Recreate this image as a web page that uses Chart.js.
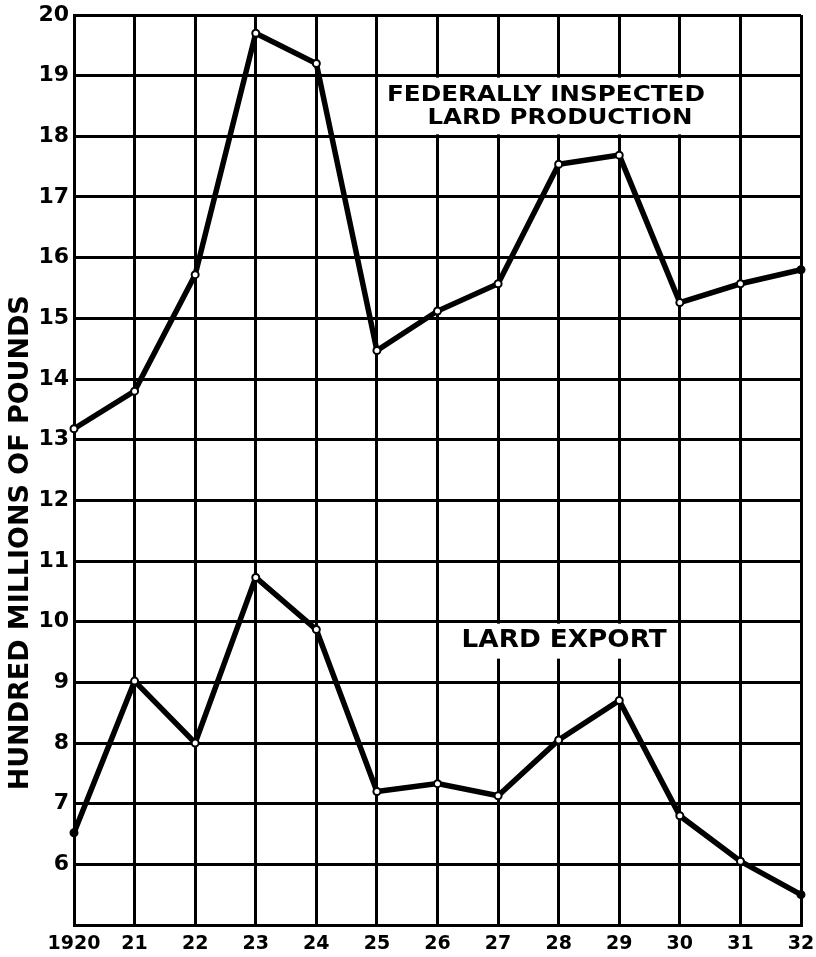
<!DOCTYPE html>
<html><head><meta charset="utf-8">
<script src="https://cdn.jsdelivr.net/npm/chart.js@4/dist/chart.umd.min.js"></script>
<style>html,body{margin:0;padding:0;background:#fff}canvas{display:block}</style>
</head><body>
<canvas id="c" width="816" height="957" style="width:816px;height:957px"></canvas>
<script>
const years = ['1920','21','22','23','24','25','26','27','28','29','30','31','32'];
const productionValues = [13.18, 13.8, 15.72, 19.7, 19.2, 14.47, 15.12, 15.57, 17.54, 17.69, 15.26, 15.57, 15.8];
const exportValues = [6.52, 9.02, 8.0, 10.73, 9.87, 7.2, 7.33, 7.13, 8.05, 8.7, 6.8, 6.05, 5.5];
const yMin = 5, yMax = 20, yStep = 1;
const yAxisTitle = 'HUNDRED MILLIONS OF POUNDS';
const productionLabel = ['FEDERALLY INSPECTED', 'LARD PRODUCTION'];
const exportLabel = 'LARD EXPORT';

const FONT = "'DejaVu Sans', sans-serif";

function fitText(ctx, text, cx, cy, width, size) {
  ctx.save();
  ctx.font = 'bold ' + size + 'px ' + FONT;
  const w = ctx.measureText(text).width;
  ctx.translate(cx, cy);
  ctx.scale(width / w, 1);
  ctx.textAlign = 'center';
  ctx.textBaseline = 'middle';
  ctx.fillStyle = '#000';
  ctx.fillText(text, 0, 0);
  ctx.restore();
}

const annotations = {
  id: 'annotations',
  beforeDatasetsDraw(chart) {
    const ctx = chart.ctx, x = chart.scales.x, y = chart.scales.y;
    ctx.save();
    ctx.fillStyle = '#fff';
    let x0 = x.getPixelForValue(5.1), x1 = x.getPixelForValue(10.9);
    let y0 = y.getPixelForValue(19) + 2, y1 = y.getPixelForValue(18) - 2;
    ctx.fillRect(x0, y0, x1 - x0, y1 - y0);
    x0 = x.getPixelForValue(6.2); x1 = x.getPixelForValue(9.83);
    y0 = y.getPixelForValue(10) + 2; y1 = y.getPixelForValue(9.39);
    ctx.fillRect(x0, y0, x1 - x0, y1 - y0);
    ctx.restore();
    fitText(ctx, productionLabel[0], x.getPixelForValue(7.79), y.getPixelForValue(18.67), 318, 21);
    fitText(ctx, productionLabel[1], x.getPixelForValue(8.02), y.getPixelForValue(18.29), 265, 21);
    fitText(ctx, exportLabel, x.getPixelForValue(8.09), y.getPixelForValue(9.69), 205, 25);
  },
  afterDraw(chart) {
    const ctx = chart.ctx, y = chart.scales.y;
    ctx.save();
    ctx.translate(21, y.getPixelForValue(11.3));
    ctx.rotate(-Math.PI / 2);
    ctx.font = 'bold 26px ' + FONT;
    const w = ctx.measureText(yAxisTitle).width;
    ctx.scale(495 / w, 1);
    ctx.textAlign = 'center';
    ctx.textBaseline = 'middle';
    ctx.fillStyle = '#000';
    ctx.fillText(yAxisTitle, 0, 0);
    ctx.restore();
  }
};

new Chart(document.getElementById('c'), {
  type: 'line',
  data: {
    labels: years,
    datasets: [
      {
        label: productionLabel.join(' '),
        data: productionValues,
        borderColor: '#000', borderWidth: 5.5,
        pointRadius: 3.5, pointBorderWidth: 2, pointBorderColor: '#000',
        pointBackgroundColor: c => c.dataIndex === productionValues.length - 1 ? '#000' : '#fff',
        tension: 0
      },
      {
        label: exportLabel,
        data: exportValues,
        borderColor: '#000', borderWidth: 5.5,
        pointRadius: 3.5, pointBorderWidth: 2, pointBorderColor: '#000',
        pointBackgroundColor: c => (c.dataIndex === 0 || c.dataIndex === exportValues.length - 1) ? '#000' : '#fff',
        tension: 0
      }
    ]
  },
  options: {
    responsive: false,
    animation: false,
    devicePixelRatio: 1,
    layout: { padding: { top: 15, right: 15, left: 0, bottom: 0 } },
    plugins: { legend: { display: false }, tooltip: { enabled: false } },
    scales: {
      x: {
        type: 'category',
        offset: false,
        grid: { color: '#000', lineWidth: 3, drawTicks: false },
        border: { color: '#000', width: 3 },
        ticks: { color: '#000', font: { family: FONT, size: 19, weight: 'bold' }, padding: 8, maxRotation: 0, autoSkip: false },
        afterFit(s) { s.height = 32; s.paddingLeft = 0; s.paddingRight = 0; }
      },
      y: {
        min: yMin, max: yMax,
        grid: { color: '#000', lineWidth: 3, drawTicks: false },
        border: { color: '#000', width: 3 },
        ticks: { stepSize: yStep, color: '#000', font: { family: FONT, size: 22, weight: 'bold' }, padding: 5,
                 callback: v => v === yMin ? '' : String(v) },
        afterFit(s) { s.width = 74; s.paddingTop = 0; s.paddingBottom = 0; }
      }
    }
  },
  plugins: [annotations]
});
</script>
</body></html>
